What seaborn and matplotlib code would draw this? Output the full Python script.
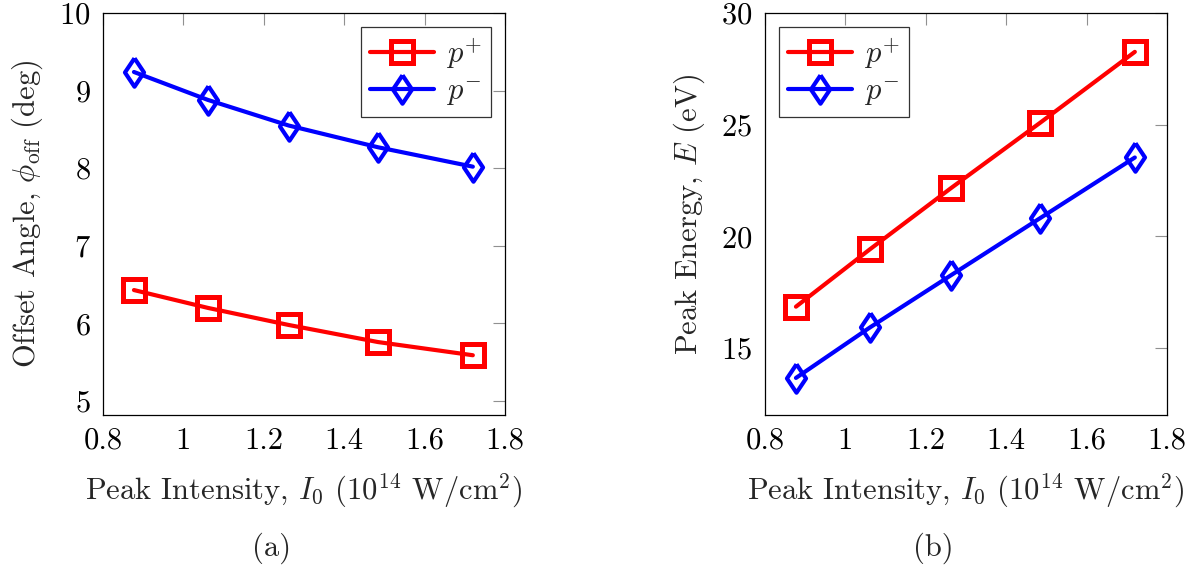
import numpy as np
import pandas as pd
import matplotlib
matplotlib.use('Agg')
import matplotlib.pyplot as plt
import seaborn as sns

# data
intensity = [0.877, 1.061, 1.262, 1.484, 1.720]
angle_plus = [6.43, 6.20, 5.98, 5.76, 5.59]
angle_minus = [9.24, 8.88, 8.55, 8.27, 8.02]
energy_plus = [16.85, 19.42, 22.15, 25.08, 28.26]
energy_minus = [13.66, 15.92, 18.25, 20.81, 23.53]

xticks = [0.8, 1.0, 1.2, 1.4, 1.6, 1.8]
xtick_labels = ['0.8', '1', '1.2', '1.4', '1.6', '1.8']
yticks_a = [5, 6, 7, 8, 9, 10]
yticks_b = [15, 20, 25, 30]

sns.set_theme(style='white')
plt.rcParams['font.family'] = ['cmr10', 'DejaVu Serif']
plt.rcParams['mathtext.fontset'] = 'cm'
plt.rcParams['axes.unicode_minus'] = False
plt.rcParams['axes.formatter.use_mathtext'] = True

# pgfplots-like diamond (a bit wider than matplotlib's thin diamond)
diamond = [(0, 1), (0.67, 0), (0, -1), (-0.67, 0), (0, 1)]

FS = 22
W, H = 1193, 565
fig = plt.figure(figsize=(W / 100, H / 100), dpi=100)
ax1 = fig.add_axes([103 / W, 1 - 415 / H, 402 / W, 402 / H])
ax2 = fig.add_axes([765 / W, 1 - 415 / H, 402 / W, 402 / H])

df_a = pd.DataFrame({'x': intensity, 'plus': angle_plus, 'minus': angle_minus})
df_b = pd.DataFrame({'x': intensity, 'plus': energy_plus, 'minus': energy_minus})

for ax, df in [(ax1, df_a), (ax2, df_b)]:
    sns.lineplot(data=df, x='x', y='plus', ax=ax, color='#ff0000', lw=3,
                 marker='s', ms=16, mfc='none', mec='#ff0000', mew=3.6,
                 label=r'$p^{+}$')
    sns.lineplot(data=df, x='x', y='minus', ax=ax, color='#0000ff', lw=3,
                 marker=diamond, ms=20.5, mfc='none', mec='#0000ff', mew=3.0,
                 label=r'$p^{-}$')
    ax.set_xlim(0.8, 1.8)
    ax.set_xticks(xticks)
    ax.set_xticklabels(xtick_labels)
    ax.tick_params(direction='in', length=8.5, width=0.8, color='#909090',
                   labelsize=FS, top=True, right=True, pad=9, labelcolor='black')
    for s in ax.spines.values():
        s.set_color('black')
        s.set_linewidth(0.9)
    ax.set_xlabel(r'Peak Intensity, $I_0$ ($10^{14}$ W/cm$^2$)', fontsize=FS, labelpad=12)
    leg = ax.legend(fontsize=FS, frameon=True, fancybox=False, handlelength=2.1,
                    borderpad=0.3, labelspacing=0.25, handletextpad=0.4,
                    borderaxespad=0.45)
    leg.get_frame().set_edgecolor('black')
    leg.get_frame().set_linewidth(0.9)

ax1.set_ylim(4.82, 10)
ax1.set_yticks(yticks_a)
ax1.set_ylabel(r'Offset Angle, $\phi_{\mathrm{off}}$ (deg)', fontsize=FS, labelpad=10)
ax1.legend_.set_loc('upper right')

ax2.set_ylim(12, 30)
ax2.set_yticks(yticks_b)
ax2.set_ylabel(r'Peak Energy, $E$ (eV)', fontsize=FS, labelpad=10)
ax2.legend_.set_loc('upper left')

fig.text(272 / W, 1 - 548 / H, '(a)', fontsize=FS, ha='center', va='center')
fig.text(933 / W, 1 - 548 / H, '(b)', fontsize=FS, ha='center', va='center')

fig.savefig('out.png', dpi=100)
